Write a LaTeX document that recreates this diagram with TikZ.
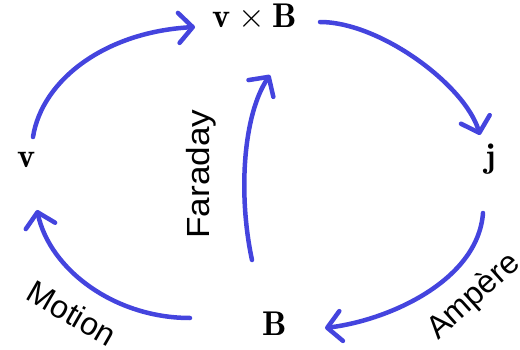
\documentclass[tikz,border=0pt]{standalone}
\usepackage{fontspec}
\usepackage{amsmath}
\newfontfamily\labelfont{Liberation Sans}
\usetikzlibrary{arrows.meta}
\definecolor{arrowblue}{RGB}{68,68,222}
\newcommand{\bigqty}[1]{\scalebox{1.38}{$#1$}}
\tikzset{
  quantity/.style={inner sep=0pt, font=\Huge, anchor=base},
  lawlabel/.style={inner sep=0pt, font=\labelfont\fontsize{32}{36}\selectfont},
  flow/.style={draw=arrowblue, line width=4.5pt, line cap=round, line join=round,
    -{Straight Barb[length=14pt, width=30pt, line cap=round, line join=round]}}
}
\begin{document}
\begin{tikzpicture}[x=1pt, y=1pt]
\useasboundingbox (0,0) rectangle (520,349);
% quantities
\node[quantity] (v)   at (27,182)  {\bigqty{\mathbf{v}}};
\node[quantity] (vxB) at (255,321) {\bigqty{\mathbf{v}\times\mathbf{B}}};
\node[quantity] (j)   at (491,182) {\bigqty{\mathbf{j}}};
\node[quantity] (B)   at (275,14)  {\bigqty{\mathbf{B}}};
% labels
\node[lawlabel, rotate=90]  (faraday) at (201,175) {\scalebox{1.1}[1]{Faraday}};
\node[lawlabel, rotate=-30] (motion)  at (72,36)   {Motion};
\node[lawlabel, rotate=42]  (ampere)  at (474,52)  {Ampère};
% connectors
\draw[flow] ([shift={(6,30)}]v.base) .. controls (42,269) and (105,317) .. ([shift={(-60,1)}]vxB.base);
\draw[flow] ([shift={(65,6)}]vxB.base) .. controls (380,327) and (465,264) .. ([shift={(-11,32)}]j.base);
\draw[flow] ([shift={(-8,-46)}]j.base) .. controls (478,69) and (390,29) .. ([shift={(50,7)}]B.base);
\draw[flow] ([shift={(-85,17)}]B.base) .. controls (115,31) and (50,79) .. ([shift={(10,-43)}]v.base);
\draw[flow] ([shift={(-23,75)}]B.base) .. controls (238,154) and (243,234) .. ([shift={(15,-47)}]vxB.base);
\end{tikzpicture}
\end{document}
